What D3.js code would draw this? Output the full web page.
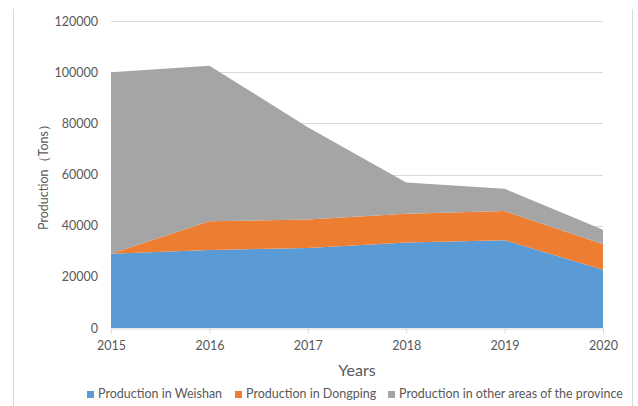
<!DOCTYPE html>
<html>
<head>
<meta charset="utf-8">
<script src="https://cdn.jsdelivr.net/npm/d3@7"></script>
<style>
  body { margin: 0; background: #fff; }
  text { font-family: Lato, "Open Sans", sans-serif; fill: #595959; }
</style>
</head>
<body>
<svg id="chart" width="638" height="406"></svg>
<script>
var years = [2015, 2016, 2017, 2018, 2019, 2020];
var weishan = [29000, 30500, 31300, 33400, 34300, 22800];
var dongping = [0, 11200, 11100, 11300, 11400, 9900];
var otherAreas = [71000, 60800, 36100, 12200, 8700, 5700];
var yTicks = [0, 20000, 40000, 60000, 80000, 100000, 120000];
var seriesNames = ['Production in Weishan', 'Production in Dongping', 'Production in other areas of the province'];
var colors = ['#5b9bd5', '#ed7d31', '#a5a5a5'];

var svg = d3.select('#chart');

var plotLeft = 111, plotRight = 603, plotTop = 21, plotBottom = 328;

var x = d3.scaleLinear().domain([2015, 2020]).range([plotLeft, plotRight]);
var y = d3.scaleLinear().domain([0, 120000]).range([plotBottom, plotTop]);

// chart frame (only the sides show)
svg.append('line').attr('x1', 13.5).attr('x2', 13.5).attr('y1', 9).attr('y2', 406)
    .attr('stroke', '#d9d9d9');
svg.append('line').attr('x1', 632.5).attr('x2', 632.5).attr('y1', 9).attr('y2', 406)
    .attr('stroke', '#d9d9d9');

// gridlines
svg.append('g').selectAll('line')
    .data(yTicks.slice(1))
    .enter()
    .append('line')
    .attr('x1', plotLeft).attr('x2', plotRight)
    .attr('y1', function(d){ return Math.round(y(d)) + 0.5; })
    .attr('y2', function(d){ return Math.round(y(d)) + 0.5; })
    .attr('stroke', '#d9d9d9');

var table = years.map(function(yr, i){
    return {year: yr, w: weishan[i], d: dongping[i], o: otherAreas[i]};
});
var layers = d3.stack().keys(['w', 'd', 'o'])(table);

var area = d3.area()
    .x(function(d){ return x(d.data.year); })
    .y0(function(d){ return y(d[0]); })
    .y1(function(d){ return y(d[1]); });

svg.append('g').selectAll('path')
    .data(layers)
    .enter()
    .append('path')
    .attr('d', area)
    .attr('fill', function(d, i){ return colors[i]; });

// x axis
var xAxis = d3.axisBottom(x).tickValues(years).tickFormat(d3.format('d')).tickSize(5).tickSizeOuter(0);
var gx = svg.append('g').attr('transform', 'translate(0,' + (plotBottom + 0.5) + ')').call(xAxis);
gx.select('.domain').attr('stroke', '#d9d9d9');
gx.selectAll('.tick line').attr('stroke', '#d9d9d9');
gx.selectAll('.tick text').attr('y', 13);

// y axis labels
var yAxis = d3.axisLeft(y).tickValues(yTicks).tickFormat(d3.format('d')).tickSize(0).tickPadding(13);
var gy = svg.append('g').attr('transform', 'translate(' + plotLeft + ',0)').call(yAxis);
gy.select('.domain').remove();

svg.selectAll('.tick text')
    .attr('font-family', null)
    .attr('fill', null)
    .style('font-size', '12.5px');

// axis titles
svg.append('text')
    .attr('x', 357).attr('y', 376)
    .attr('text-anchor', 'middle')
    .style('font-size', '16px')
    .text('Years');

svg.append('text')
    .attr('transform', 'translate(48,174) rotate(-90)')
    .attr('text-anchor', 'middle')
    .style('font-size', '12.5px')
    .text('Production（Tons）');

// legend
var legendX = [87, 235, 388];
var legend = svg.append('g').selectAll('g')
    .data(seriesNames)
    .enter()
    .append('g')
    .attr('transform', function(d, i){ return 'translate(' + legendX[i] + ',391)'; });
legend.append('rect').attr('width', 7).attr('height', 7).attr('fill', function(d, i){ return colors[i]; });
legend.append('text')
    .attr('x', 11).attr('y', 7)
    .style('font-size', '12.5px')
    .text(function(d){ return d; });
</script>
</body>
</html>
